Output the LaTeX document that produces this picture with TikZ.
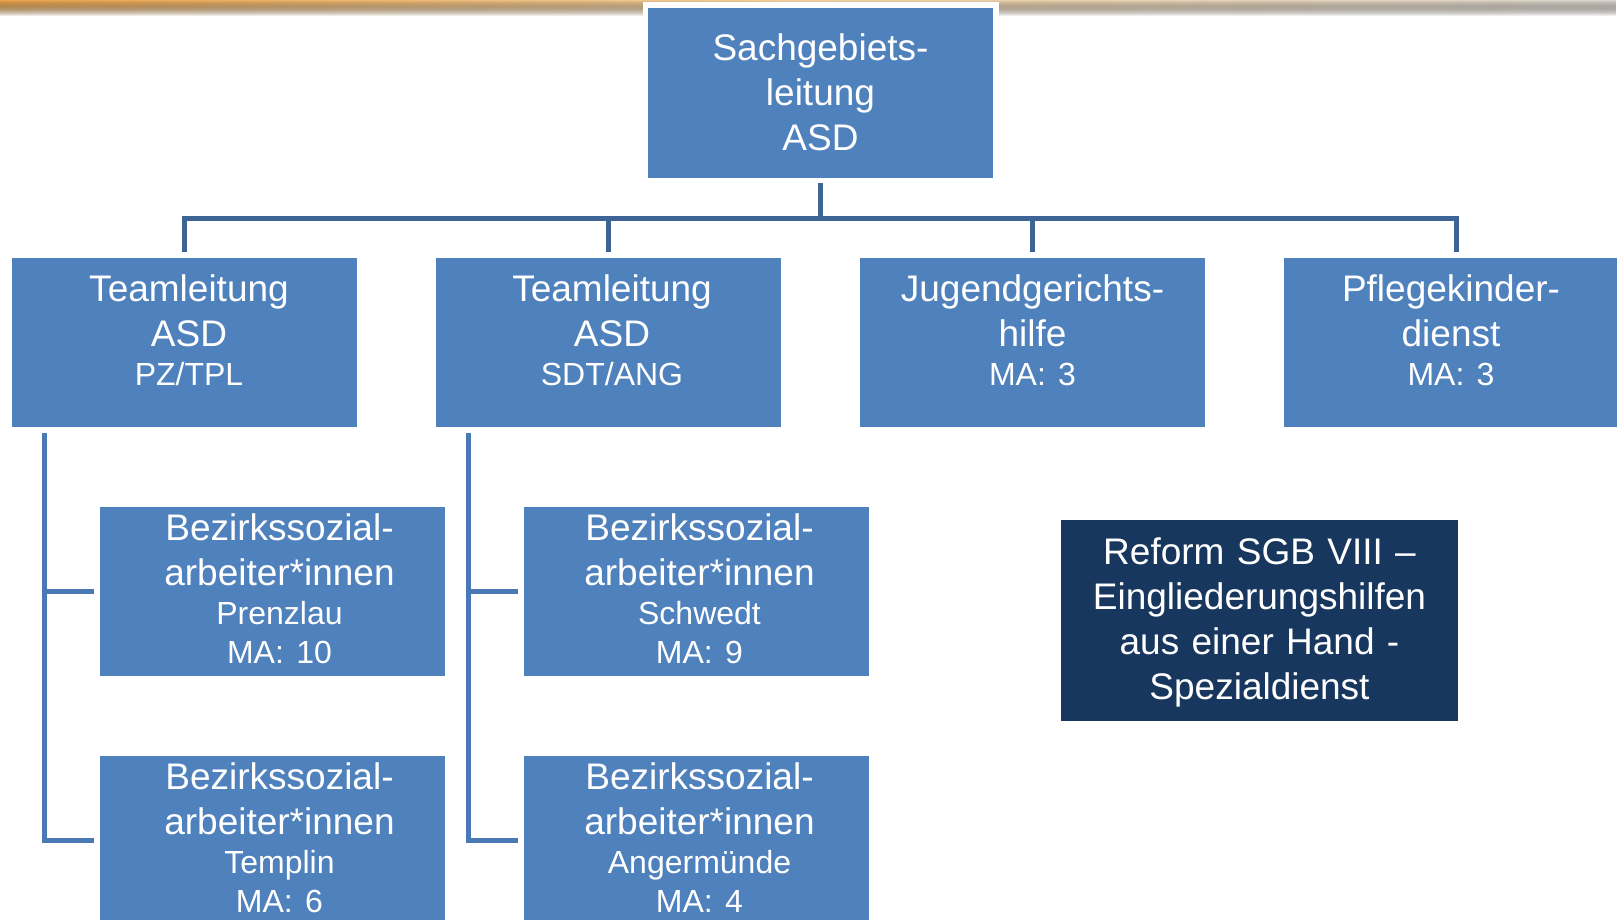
\documentclass[tikz,border=0pt]{standalone}
\usepackage{fontspec}
\setmainfont{Liberation Sans}
\usetikzlibrary{fadings}

\definecolor{boxblue}{RGB}{79,129,189}
\definecolor{navy}{RGB}{24,55,94}
\definecolor{treeblue}{RGB}{62,100,150}
\definecolor{subblue}{RGB}{74,121,182}
\definecolor{bandorange}{RGB}{233,163,75}
\definecolor{bandpeach}{RGB}{240,208,160}
\definecolor{bandgrey}{RGB}{218,212,205}

% smaller lines under the title of a box
\newcommand{\detail}[1]{\par\fontsize{32}{39}\selectfont #1\par}

\begin{document}
\begin{tikzpicture}[x=1pt, y=-1pt,
    orgbox/.style={rectangle, fill=boxblue, text=white, inner sep=0pt,
        preaction={draw=white, line width=11pt},
        minimum width=345pt, text width=345pt, align=center,
        font=\fontsize{37}{45}\selectfont\frenchspacing},
    headbox/.style={orgbox, minimum height=170pt,
        text height=53pt, text depth=117pt},
    teambox/.style={orgbox, minimum height=169pt,
        text height=43pt, text depth=126pt},
    staffbox/.style={orgbox, minimum height=169pt,
        text height=33pt, text depth=136pt},
    nudge/.style={execute at begin node={\advance\leftskip by #1pt}},
    treeline/.style={draw=treeblue, line width=4.7pt},
    subline/.style={draw=subblue, line width=4.7pt},
    ]
    \useasboundingbox (0,0) rectangle (1617,920);

    % band along the top edge
    \fill[left color=bandorange, right color=bandgrey,
          middle color=bandpeach, path fading=south]
        (0,0) rectangle (1617,16);

    \node[headbox] (sga) at (820.5,93)
        {Sachgebiets-\\leitung\\ASD};

    \node[teambox, nudge=9] (tl1) at (184.5,342.5)
        {Teamleitung\\ASD\detail{PZ/TPL}};
    \node[teambox, nudge=7] (tl2) at (608.5,342.5)
        {Teamleitung\\ASD\detail{SDT/ANG}};
    \node[teambox] (jgh) at (1032.5,342.5)
        {Jugendgerichts-\\hilfe\detail{MA: 3}};
    \node[teambox, nudge=-11] (pkd) at (1456.5,342.5)
        {Pflegekinder-\\dienst\detail{MA: 3}};

    \node[staffbox, nudge=14] (bz1a) at (272.5,591.5)
        {Bezirkssozial-\\arbeiter*innen\detail{Prenzlau\\MA: 10}};
    \node[staffbox, nudge=14] (bz1b) at (272.5,840.5)
        {Bezirkssozial-\\arbeiter*innen\detail{Templin\\MA: 6}};
    \node[staffbox, nudge=6] (bz2a) at (696.5,591.5)
        {Bezirkssozial-\\arbeiter*innen\detail{Schwedt\\MA: 9}};
    \node[staffbox, nudge=6] (bz2b) at (696.5,840.5)
        {Bezirkssozial-\\arbeiter*innen\detail{Angermünde\\MA: 4}};

    \node[orgbox, fill=navy,
          minimum width=397pt, text width=397pt,
          minimum height=201pt, text height=44pt, text depth=157pt,
          ] (reform) at (1259.5,620.5)
        {Reform SGB VIII –\\Eingliederungshilfen\\aus einer Hand -\\Spezialdienst};

    \coordinate (bus) at (820.5,218.5);

    \draw[treeline, shorten <=5pt] (sga.south) -- (sga.south |- bus);
    \draw[treeline, shorten <=6pt, shorten >=6pt] (tl1.north)
        -- (tl1.north |- bus) -- (pkd.north |- bus) -- (pkd.north);
    \draw[treeline, shorten >=6pt] (tl2.north |- bus) -- (tl2.north);
    \draw[treeline, shorten >=6pt] (jgh.north |- bus) -- (jgh.north);

    \draw[subline, shorten <=6pt, shorten >=6pt]
        ([xshift=33pt]tl1.south west) |- (bz1a.west);
    \draw[subline, shorten <=6pt, shorten >=6pt]
        ([xshift=33pt]tl1.south west) |- (bz1b.west);
    \draw[subline, shorten <=6pt, shorten >=6pt]
        ([xshift=33pt]tl2.south west) |- (bz2a.west);
    \draw[subline, shorten <=6pt, shorten >=6pt]
        ([xshift=33pt]tl2.south west) |- (bz2b.west);
\end{tikzpicture}
\end{document}
